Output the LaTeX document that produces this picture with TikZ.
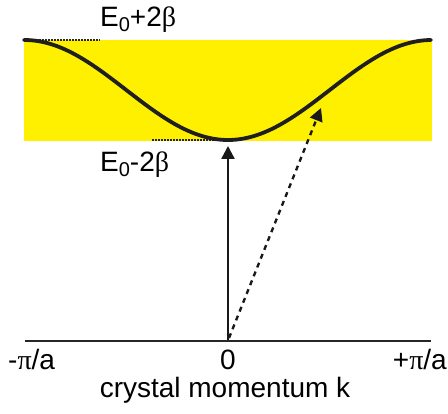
\documentclass[tikz,border=0pt]{standalone}
\usepackage{fontspec}
\setmainfont{Liberation Sans}
\newfontfamily\grk{Liberation Serif}
\usetikzlibrary{arrows.meta}
\definecolor{bandyellow}{RGB}{255,240,0}
\begin{document}
\begin{tikzpicture}[x=1pt,y=-1pt,
  lbl/.style={font=\fontsize{28}{30}\selectfont, inner sep=0pt},
  guide/.style={line width=2.5pt, dash pattern=on 1.5pt off 1.5pt, black!85},
  arr/.style={line width=2.4pt, black!90, -{Triangle[length=13pt,width=13pt]}}]
\useasboundingbox (0,0) rectangle (448,414);
% band
\fill[bandyellow] (24,40) rectangle (432,141);
% coordinates
\coordinate (bl) at (24,40);
\coordinate (ul) at (100,40);
\coordinate (lm) at (152,140);
\coordinate (min) at (228,140);
\coordinate (axl) at (25,341);
\coordinate (axr) at (431,341);
\coordinate (o) at (228,340);
\coordinate (otip) at (228,146);
\coordinate (o2) at (229,338);
\coordinate (dtip) at (321,108);
% guides
\draw[guide] (bl) -- (ul);
\draw[guide] (lm) -- (min);
% curve
\draw[line width=3.8pt, black!88, line cap=round, domain=24:431, samples=120, smooth]
  plot (\x, {90+50*cos(0.8845*(\x-228))});
% axis
\draw[line width=2.2pt, black!85] (axl) -- (axr);
% arrows
\draw[arr] (o) -- (otip);
\draw[arr, dash pattern=on 5pt off 4.5pt] (o2) -- (dtip);
% labels
\node[lbl, anchor=base west] (top) at (100,27) {E\raisebox{-0.3ex}{\fontsize{20}{20}\selectfont 0}+2{\grk β}};
\node[lbl, anchor=base west] (bot) at (100,172) {E\raisebox{-0.3ex}{\fontsize{20}{20}\selectfont 0}-2{\grk β}};
\node[lbl, anchor=base west] (kl) at (8,370) {-{\grk π}/a};
\node[lbl, anchor=base] (k0) at (228,370) {0};
\node[lbl, anchor=base east] (kr) at (447,370) {+{\grk π}/a};
\node[lbl, anchor=base] (kx) at (225,398) {crystal momentum k};
\end{tikzpicture}
\end{document}
